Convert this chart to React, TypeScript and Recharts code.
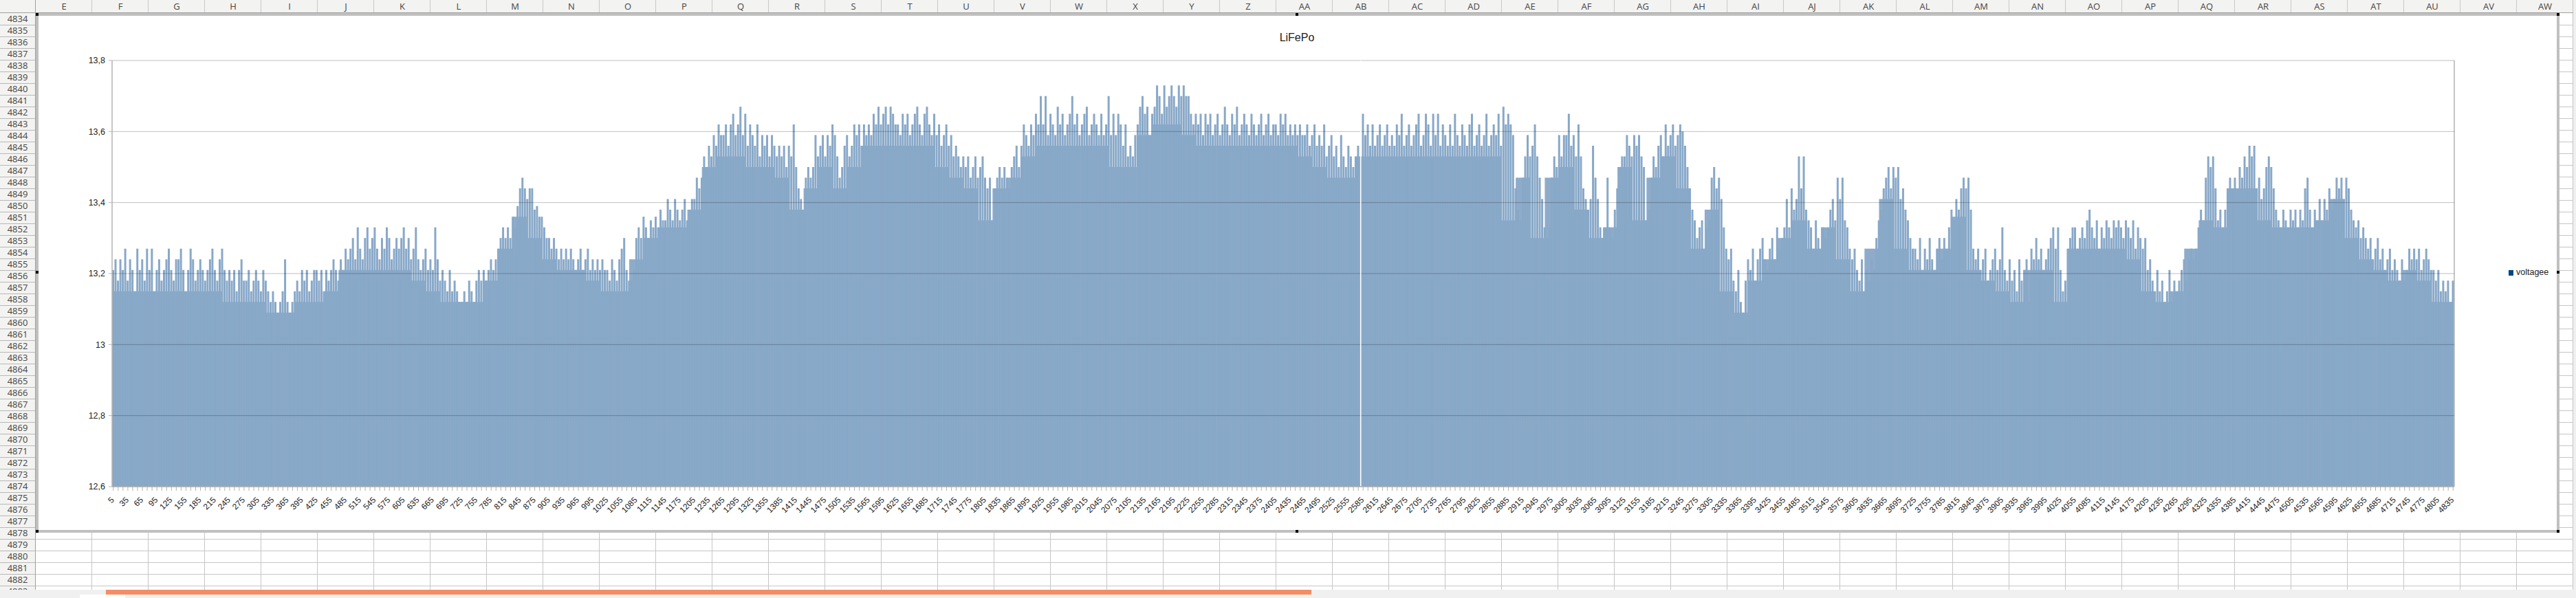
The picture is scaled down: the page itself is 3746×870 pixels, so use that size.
import React from 'react';
import { ComposedChart, Area, Bar, XAxis, YAxis, CartesianGrid, ReferenceLine } from 'recharts';

// voltage peaks, one value per 5 samples, left to right
const peaksA = [
  13.21,13.24,13.18,13.24,13.21,13.27,13.18,13.24,13.21,13.15,13.27,13.21,
  13.24,13.18,13.27,13.21,13.27,13.15,13.21,13.24,13.18,13.21,13.24,13.27,
  13.21,13.18,13.24,13.24,13.27,13.21,13.15,13.21,13.27,13.24,13.18,13.21,
  13.24,13.21,13.18,13.21,13.24,13.27,13.21,13.18,13.24,13.27,13.21,13.18,
  13.21,13.18,13.21,13.15,13.21,13.24,13.18,13.18,13.21,13.15,13.18,13.21,
  13.18,13.15,13.21,13.18,13.15,13.12,13.15,13.12,13.09,13.12,13.15,13.24,
  13.12,13.09,13.12,13.15,13.18,13.15,13.21,13.18,13.21,13.15,13.18,13.21,
  13.21,13.18,13.21,13.15,13.21,13.18,13.21,13.24,13.21,13.18,13.24,13.21,
  13.27,13.24,13.27,13.30,13.24,13.33,13.27,13.24,13.30,13.33,13.27,13.30,
  13.33,13.27,13.24,13.30,13.27,13.33,13.30,13.24,13.27,13.30,13.27,13.30,
  13.33,13.27,13.30,13.24,13.27,13.33,13.24,13.21,13.24,13.27,13.21,13.24,
  13.21,13.33,13.24,13.18,13.21,13.18,13.15,13.21,13.15,13.18,13.15,13.12,
  13.12,13.15,13.12,13.18,13.15,13.12,13.18,13.21,13.18,13.21,13.18,13.21,
  13.24,13.21,13.24,13.27,13.30,13.33,
];
const peaksB = [
  13.30,13.33,13.30,13.36,13.33,13.39,
  13.44,13.47,13.44,13.41,13.44,13.44,13.38,13.39,13.36,13.36,13.33,13.30,
  13.30,13.27,13.30,13.27,13.24,13.27,13.24,13.27,13.24,13.27,13.24,13.21,
  13.24,13.27,13.21,13.24,13.27,13.21,13.24,13.21,13.24,13.21,13.24,13.21,
  13.21,13.18,13.24,13.21,13.18,13.24,13.27,13.30,13.21,13.18,13.18,13.21,
  13.30,13.33,13.30,13.36,13.33,13.30,13.35,13.33,13.36,13.33,13.38,13.35,
  13.35,13.41,13.38,13.35,13.41,13.38,13.35,13.38,13.41,13.35,13.38,13.41,
  13.41,13.47,13.44,13.47,13.53,13.50,13.56,13.53,13.59,13.56,13.62,13.59,
  13.59,13.62,13.56,13.62,13.65,13.59,13.62,13.67,13.59,13.65,13.56,13.62,
  13.59,13.56,13.62,13.53,13.59,13.56,13.59,13.53,13.59,13.56,13.53,13.56,
  13.53,13.56,13.50,13.56,13.53,13.62,13.50,13.44,13.41,13.38,13.47,13.50,
  13.47,13.50,13.59,13.53,13.56,13.59,13.53,13.59,13.56,13.62,13.59,13.53,
  13.47,13.50,13.56,13.59,13.53,13.56,13.62,13.59,13.62,13.56,13.62,13.59,
  13.62,13.59,13.65,13.62,13.67,13.62,13.65,13.67,13.62,13.67,13.65,13.62,
];
const peaksC = [
  13.62,13.59,13.65,13.62,13.65,13.59,13.62,13.65,13.67,13.62,13.59,13.65,
  13.67,13.62,13.59,13.65,13.59,13.62,13.56,13.59,13.62,13.56,13.59,13.53,
  13.56,13.53,13.50,13.53,13.50,13.53,13.47,13.50,13.53,13.47,13.50,13.53,
  13.47,13.44,13.47,13.35,13.44,13.47,13.50,13.47,13.50,13.47,13.44,13.50,
  13.53,13.56,13.50,13.56,13.62,13.59,13.56,13.62,13.59,13.65,13.62,13.70,
  13.62,13.70,13.59,13.65,13.62,13.59,13.67,13.62,13.65,13.59,13.62,13.65,
  13.70,13.62,13.65,13.59,13.62,13.65,13.67,13.59,13.62,13.65,13.62,13.59,
  13.65,13.59,13.62,13.70,13.59,13.65,13.59,13.65,13.62,13.56,13.62,13.53,
  13.56,13.53,13.59,13.62,13.67,13.70,13.65,13.67,13.59,13.65,13.67,13.73,
  13.70,13.65,13.73,13.67,13.70,13.73,13.70,13.67,13.73,13.70,13.73,13.70,
  13.70,13.65,13.62,13.65,13.62,13.65,13.59,13.65,13.62,13.65,13.59,13.62,
  13.65,13.59,13.62,13.67,13.62,13.59,13.65,13.62,13.67,13.59,13.62,13.65,
  13.62,13.59,13.65,13.62,13.59,13.62,13.65,13.59,13.62,13.65,13.59,13.62,
  13.62,13.59,13.65,13.62,13.65,13.59,
];
const peaksD = [
  13.62,13.59,13.62,13.59,13.62,13.59,
  13.59,13.62,13.56,13.59,13.62,13.56,13.59,13.56,13.62,13.53,13.56,13.59,
  13.53,13.56,13.50,13.59,13.53,13.50,13.56,13.53,13.50,13.53,13.56,null,
  13.65,13.59,13.62,13.56,13.62,13.56,13.59,13.62,13.56,13.59,13.62,13.56,
  13.59,13.56,13.62,13.59,13.65,13.56,13.59,13.62,13.56,13.59,13.62,13.65,
  13.56,13.59,13.65,13.62,13.56,13.65,13.59,13.65,13.56,13.62,13.59,13.56,
  13.62,13.56,13.65,13.59,13.56,13.62,13.59,13.56,13.62,13.65,13.56,13.59,
  13.62,13.56,13.59,13.65,13.56,13.59,13.62,13.59,13.65,13.56,13.67,13.62,
  13.65,13.62,13.59,13.44,13.38,13.35,13.47,13.53,13.59,13.53,13.56,13.62,
  13.53,13.47,13.41,13.33,13.30,13.33,13.47,13.53,13.50,13.59,13.53,13.59,
  13.59,13.65,13.56,13.59,13.53,13.62,13.53,13.44,13.41,13.38,13.41,13.56,
  13.47,13.41,13.33,13.30,13.33,13.47,13.33,13.30,13.38,13.44,13.50,13.53,
  13.53,13.59,13.56,13.53,13.59,13.56,13.59,13.53,13.50,13.35,13.38,13.47,
  13.53,13.50,13.56,13.59,13.53,13.62,13.56,13.59,13.62,13.56,13.59,13.62,
];
const peaksE = [
  13.60,13.56,13.50,13.44,13.38,13.35,13.30,13.33,13.35,13.27,13.33,13.35,
  13.47,13.50,13.44,13.47,13.41,13.33,13.27,13.24,13.27,13.18,13.15,13.21,
  13.12,13.09,13.18,13.24,13.21,13.27,13.18,13.24,13.27,13.30,13.24,13.21,
  13.27,13.30,13.24,13.33,13.27,13.30,13.33,13.41,13.33,13.44,13.38,13.41,
  13.53,13.44,13.53,13.38,13.35,13.33,13.27,13.35,13.30,13.27,13.33,13.30,
  13.33,13.38,13.41,13.35,13.47,13.41,13.47,13.35,13.33,13.27,13.24,13.27,
  13.21,13.18,13.24,13.15,13.21,13.18,13.24,13.21,13.30,13.35,13.38,13.44,
  13.47,13.50,13.44,13.50,13.47,13.50,13.41,13.44,13.38,13.35,13.30,13.27,
  13.27,13.24,13.30,13.21,13.27,13.24,13.30,13.24,13.21,13.27,13.30,13.24,
  13.30,13.27,13.33,13.38,13.35,13.41,13.38,13.44,13.47,13.44,13.47,13.38,
  13.27,13.24,13.27,13.21,13.24,13.27,13.18,13.21,13.24,13.27,13.21,13.24,
  13.33,13.21,13.18,13.24,13.18,13.21,13.15,13.24,13.18,13.21,13.24,13.12,
  13.27,13.24,13.30,13.24,13.27,13.21,13.24,13.27,13.30,13.33,13.27,13.33,
  13.21,13.15,13.18,13.27,13.30,13.33,
];
const peaksF = [
  13.33,13.27,13.30,13.33,13.30,13.35,
  13.38,13.33,13.30,13.35,13.27,13.33,13.30,13.35,13.33,13.30,13.35,13.33,
  13.35,13.33,13.30,13.35,13.33,13.30,13.35,13.27,13.33,13.30,13.27,13.30,
  13.21,13.24,13.18,13.15,13.21,13.15,13.18,13.12,13.15,13.21,13.12,13.18,
  13.15,13.18,13.21,13.24,13.18,13.24,13.27,13.24,13.27,13.33,13.38,13.35,
  13.47,13.53,13.50,13.53,13.44,13.35,13.38,13.33,13.38,13.44,13.47,13.44,
  13.47,13.44,13.50,13.47,13.53,13.50,13.56,13.53,13.56,13.44,13.47,13.41,
  13.44,13.50,13.53,13.50,13.44,13.38,13.35,13.33,13.38,13.35,13.33,13.38,
  13.35,13.38,13.33,13.38,13.35,13.44,13.47,13.38,13.33,13.38,13.35,13.41,
  13.35,13.41,13.38,13.44,13.38,13.41,13.47,13.44,13.47,13.41,13.47,13.44,
  13.38,13.35,13.33,13.35,13.30,13.33,13.30,13.27,13.30,13.24,13.27,13.30,
  13.24,13.27,13.21,13.24,13.27,13.21,13.24,13.21,13.18,13.24,13.18,13.21,
  13.27,13.24,13.27,13.24,13.27,13.21,13.24,13.27,13.24,13.21,13.21,13.18,
  13.21,13.15,13.18,13.15,13.18,13.12,13.18,
];

// solid level under the peaks, one value per labelled tick (every 30 samples)
const bodyLevels = [
  13.15,13.15,13.15,13.15,13.15,13.15,13.15,13.15,13.12,13.12,13.12,13.09,13.09,13.12,13.12,13.15,
  13.21,13.21,13.21,13.21,13.21,13.18,13.15,13.12,13.12,13.12,13.18,13.27,13.36,13.30,
  13.24,13.21,13.21,13.18,13.15,13.15,13.24,13.30,13.33,13.33,13.38,13.50,13.53,13.53,13.50,13.50,
  13.47,13.38,13.44,13.50,13.44,13.50,13.56,13.56,
  13.56,13.56,13.56,13.50,13.47,13.44,13.35,13.44,13.47,13.53,13.56,13.56,13.56,13.56,13.56,13.50,
  13.50,13.59,13.62,13.62,13.59,13.56,13.56,13.56,13.56,13.56,13.56,13.56,
  13.53,13.50,13.47,13.47,13.53,13.53,13.53,13.53,13.53,13.53,13.53,13.53,13.53,13.53,13.35,13.47,
  13.30,13.47,13.50,13.38,13.30,13.33,13.50,13.35,13.47,13.53,
  13.44,13.27,13.38,13.15,13.09,13.18,13.24,13.30,13.35,13.27,13.33,13.24,13.15,13.27,13.41,13.27,
  13.21,13.21,13.27,13.36,13.21,13.18,13.15,13.12,13.21,13.21,13.12,13.27,
  13.27,13.27,13.27,13.24,13.15,13.12,13.15,13.27,13.35,13.33,13.44,13.44,13.35,13.33,13.33,13.33,
  13.35,13.41,13.30,13.24,13.21,13.18,13.21,13.18,13.12,13.12,
];

const voltages = [...peaksA, ...peaksB, ...peaksC, ...peaksD, ...peaksE, ...peaksF];
const gapSample = 2580; // the one sample with no reading
const yTicks = [12.6, 12.8, 13, 13.2, 13.4, 13.6, 13.8];
const columns = ['E','F','G','H','I','J','K','L','M','N','O','P','Q','R','S','T','U','V','W','X','Y','Z',
  'AA','AB','AC','AD','AE','AF','AG','AH','AI','AJ','AK','AL','AM','AN','AO','AP','AQ','AR','AS','AT','AU','AV','AW'];
const firstRow = 4834;
const rowCount = 50;

const data = voltages.map((v, i) => ({
  sample: 5 + 5 * i,
  voltagee: v,
  body: i % 6 === 0 ? bodyLevels[i / 6] : null,
}));

const font = '"Liberation Sans", Arial, sans-serif';
const uiFont = '"Open Sans", sans-serif';

const XTick = ({ x, y, payload }: any) => {
  const labelled = (payload.value - 5) % 30 === 0;
  return (
    <g>
      <line x1={x} x2={x} y1={y} y2={y + 6} stroke="#b3b3b3" strokeWidth={1} />
      {labelled && (
        <text x={x + 2} y={y + 20} textAnchor="end" fontFamily={font} fontSize={12} fill="#222"
          transform={`rotate(-45 ${x + 2} ${y + 20})`}>
          {payload.value}
        </text>
      )}
    </g>
  );
};

const box = (left: number, top: number, width: number, height: number, background: string): React.CSSProperties => ({
  position: 'absolute', left, top, width, height, background,
});

const handles = [[52, 19], [1884, 19], [3718, 19], [52, 394], [3718, 394], [52, 771], [1884, 771], [3718, 771]];

const App = () => {
  return (
    <div style={{ position: 'absolute', left: 0, top: 0, width: 3746, height: 870, overflow: 'hidden', background: '#fff' }}>
      {/* sheet grid */}
      {columns.map((c, i) => (
        <div key={c} style={box(52 + 82 * i + 81, 0, 1, 858, '#c6c6c6')} />
      ))}
      {Array.from({ length: rowCount }).map((_, i) => (
        <div key={i} style={box(0, 35.7 + 17 * i, 3742, 1, '#c6c6c6')} />
      ))}
      {/* column and row headers */}
      <div style={box(0, 0, 3746, 18, '#f3f3f1')} />
      <div style={box(0, 18, 3746, 1, '#a0a0a0')} />
      {columns.map((c, i) => (
        <React.Fragment key={c}>
          <div style={box(52 + 82 * i + 81, 0, 1, 18, '#c8c8c8')} />
          <div style={{ position: 'absolute', left: 52 + 82 * i, top: 0, width: 82, height: 18, lineHeight: '18px', textAlign: 'center', fontFamily: uiFont, fontSize: 13, color: '#444' }}>
            {c}
          </div>
        </React.Fragment>
      ))}
      <div style={box(0, 19, 51, 839, '#f3f3f1')} />
      <div style={box(51, 0, 1, 858, '#a0a0a0')} />
      {Array.from({ length: rowCount }).map((_, i) => (
        <React.Fragment key={i}>
          <div style={box(0, 35.7 + 17 * i, 51, 1, '#b8b8b8')} />
          <div style={{ position: 'absolute', left: 0, top: 19 + 17 * i, width: 51, height: 17, lineHeight: '17px', textAlign: 'center', fontFamily: uiFont, fontSize: 13, color: '#444' }}>
            {firstRow + i}
          </div>
        </React.Fragment>
      ))}
      {/* bottom bar */}
      <div style={box(0, 858, 3746, 12, '#f0f0f0')} />
      <div style={box(154, 858, 1753, 7, '#f28e66')} />
      <div style={box(116, 865, 66, 5, '#ffffff')} />
      <div style={box(3742, 0, 4, 870, '#f0f0f0')} />

      {/* chart frame */}
      <div style={box(52, 19, 3670, 756, '#c0c0c0')} />
      <div style={box(56, 23, 3662, 748, '#ffffff')} />
      {handles.map(([l, t], i) => (
        <div key={i} style={box(l, t, 4, 4, '#000')} />
      ))}

      <div style={{ position: 'absolute', left: 1786, top: 46, width: 200, textAlign: 'center', fontFamily: font, fontSize: 16, color: '#222' }}>
        LiFePo
      </div>
      <div style={box(3648, 393, 7, 8, '#004586')} />
      <div style={{ position: 'absolute', left: 3659, top: 389, fontFamily: font, fontSize: 12.5, color: '#222', lineHeight: '15px' }}>
        voltagee
      </div>

      <div style={{ position: 'absolute', left: 0, top: 0 }}>
        <ComposedChart width={3746} height={870} data={data} barGap={0}
          margin={{ top: 88, right: 177, bottom: 0, left: 0 }}>
          <CartesianGrid horizontal={false} stroke="#b3b3b3" strokeWidth={1.5}
            verticalCoordinatesGenerator={({ offset }: any) => [offset.left + offset.width]} />
          <XAxis dataKey="sample" type="category" interval={1} height={162} tickLine={false} tickSize={0} tickMargin={0}
            axisLine={{ stroke: '#b3b3b3', strokeWidth: 1.5 }} tick={<XTick />} />
          <YAxis width={163} domain={[12.6, 13.8]} ticks={yTicks} allowDataOverflow tickSize={5} tickMargin={5}
            axisLine={{ stroke: '#b3b3b3', strokeWidth: 1.5 }} tickLine={{ stroke: '#b3b3b3' }}
            tickFormatter={(v: number) => String(v).replace('.', ',')}
            tick={{ fontFamily: font, fontSize: 12.5, fill: '#222' }} />
          <Area dataKey="body" type="step" connectNulls stroke="none" fill="#8eacca" fillOpacity={1}
            dot={false} activeDot={false} isAnimationActive={false} legendType="none" />
          <Bar dataKey="voltagee" fill="#88a8c8" barSize={3} isAnimationActive={false} />
          {yTicks.map((t) => (
            <ReferenceLine key={t} y={t} stroke="#000" strokeOpacity={0.25} strokeWidth={1} />
          ))}
          <ReferenceLine x={gapSample} stroke="#ffffff" strokeWidth={1.5} />
        </ComposedChart>
      </div>
    </div>
  );
};

export default App;
